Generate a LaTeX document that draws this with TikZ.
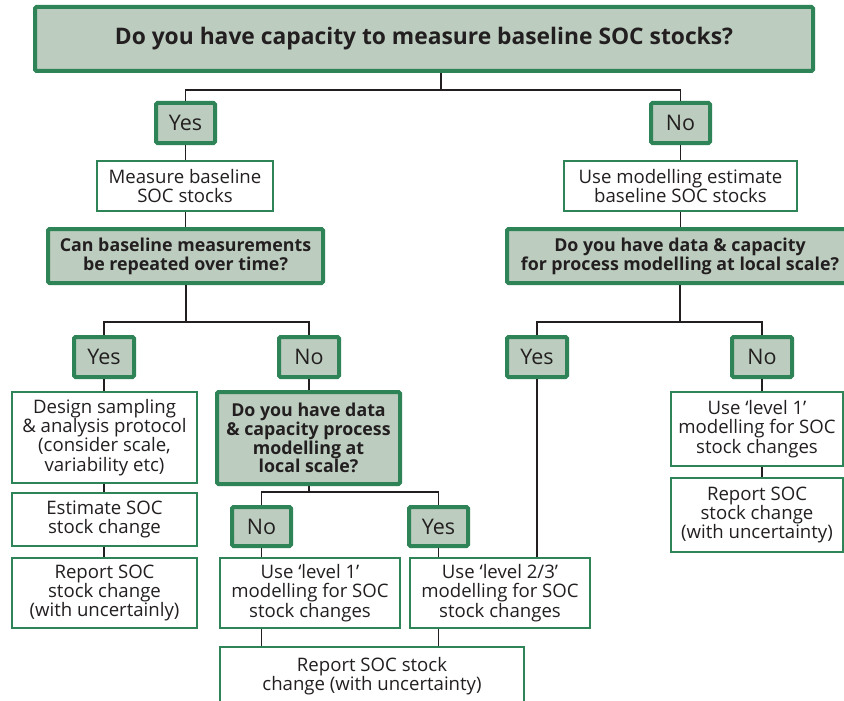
\documentclass[tikz,border=0pt]{standalone}
\usepackage{fontspec}
\setmainfont{Open Sans}
\definecolor{gborder}{HTML}{2E8357}
\definecolor{gfill}{HTML}{BCCDBF}
\definecolor{ink}{HTML}{231F20}
\tikzset{
  qbox/.style={draw=gborder, line width=4pt, fill=gfill, rounded corners=1.5pt, align=center, text=ink, inner sep=0pt,
    font=\fontsize{17.8}{18.8}\selectfont\bfseries},
  ansbox/.style={draw=gborder, line width=4pt, fill=gfill, rounded corners=1.5pt, align=center, text=ink, inner sep=0pt,
    font=\fontsize{21.5}{22}\selectfont},
  actbox/.style={draw=gborder, line width=1.8pt, fill=white, align=center, text=ink, inner sep=0pt,
    font=\fontsize{18.6}{19.2}\selectfont},
  conn/.style={draw=ink, line width=1.8pt}
}
\begin{document}
\begin{tikzpicture}[x=1pt,y=-1pt]
\useasboundingbox (0,0) rectangle (844,701);
\coordinate (j1) at (441,90);
\coordinate (j2) at (186,322);
\coordinate (j3) at (680,322);
\coordinate (j4) at (309,492);

% nodes
\node[qbox, minimum width=778, minimum height=64, font=\fontsize{22.8}{24}\selectfont\bfseries] (q1) at (424,39) {\raisebox{-2pt}{Do you have capacity to measure baseline SOC stocks?}};
\node[ansbox, minimum width=59, minimum height=40] (yes1) at (185.5,123) {Yes};
\node[ansbox, minimum width=59, minimum height=40] (no1) at (680.5,123) {No};
\node[actbox, minimum width=176, minimum height=50] (m1) at (185,186) {Measure baseline\\SOC stocks};
\node[actbox, minimum width=233, minimum height=50] (m2) at (680.5,186) {Use modelling estimate\\baseline SOC stocks};
\node[qbox, minimum width=275, minimum height=54] (q2) at (185.5,256) {Can baseline measurements\\be repeated over time?};
\node[qbox, minimum width=346, minimum height=54] (q3) at (680,256) {Do you have data \& capacity\\for process modelling at local scale?};
\node[ansbox, minimum width=60, minimum height=40] (yes2) at (104,357) {Yes};
\node[ansbox, minimum width=60, minimum height=40] (no2) at (309,357) {No};
\node[ansbox, minimum width=60, minimum height=40] (yes3) at (537,357) {Yes};
\node[ansbox, minimum width=60, minimum height=40] (no3) at (762,357) {No};
\node[actbox, minimum width=185, minimum height=91] (d1) at (104.5,437.5) {Design sampling\\\& analysis protocol\\(consider scale,\\variability etc)};
\node[qbox, minimum width=183, minimum height=92] (q4) at (308.5,438) {Do you have data\\\& capacity process\\modelling at\\local scale?};
\node[actbox, minimum width=172, minimum height=74] (l1r) at (757,429) {Use ‘level 1’\\modelling for SOC\\stock changes};
\node[actbox, minimum width=172, minimum height=74] (rr) at (757,515) {Report SOC\\stock change\\(with uncertainty)};
\node[actbox, minimum width=185, minimum height=53] (e1) at (104.5,519.5) {Estimate SOC\\stock change};
\node[ansbox, minimum width=59, minimum height=39] (no4) at (261.5,526.5) {No};
\node[ansbox, minimum width=59, minimum height=39] (yes4) at (438.5,526.5) {Yes};
\node[actbox, minimum width=185, minimum height=70] (rl) at (104.5,593) {Report SOC\\stock change\\(with uncertainly)};
\node[actbox, minimum width=180, minimum height=70] (l1m) at (310,593) {Use ‘level 1’\\modelling for SOC\\stock changes};
\node[actbox, minimum width=180, minimum height=70] (l23) at (500,593) {Use ‘level 2/3’\\modelling for SOC\\stock changes};
\node[actbox, minimum width=304, minimum height=62] (rb) at (372,678) {};
\node[align=center, text=ink, inner sep=0pt, font=\fontsize{18.6}{19.2}\selectfont, anchor=north] (rbt) at (372,657) {Report SOC stock\\change (with uncertainty)};

% connectors
\draw[conn] (j1 |- q1.south) -- (j1);
\draw[conn] (yes1.north) -- (yes1.north |- j1) -- (no1.north |- j1) -- (no1.north);
\draw[conn] (yes1.south) -- (yes1.south |- m1.north);
\draw[conn] (m1.south -| yes1.south) -- (yes1.south |- q2.north);
\draw[conn] (no1.south) -- (no1.south |- m2.north);
\draw[conn] (m2.south -| no1.south) -- (no1.south |- q3.north);
\draw[conn] (j2 |- q2.south) -- (j2);
\draw[conn] (yes2.north) -- (yes2.north |- j2) -- (no2.north |- j2) -- (no2.north);
\draw[conn] (j3 |- q3.south) -- (j3);
\draw[conn] (yes3.north) -- (yes3.north |- j3) -- (no3.north |- j3) -- (no3.north);
\draw[conn] (yes2.south) -- (yes2.south |- d1.north);
\draw[conn] (d1.south -| yes2.south) -- (yes2.south |- e1.north);
\draw[conn] (e1.south -| yes2.south) -- (yes2.south |- rl.north);
\draw[conn] (no2.south) -- (no2.south |- q4.north);
\draw[conn] (j4 |- q4.south) -- (j4);
\draw[conn] (no4.north) -- (no4.north |- j4) -- (yes4.north |- j4) -- (yes4.north);
\draw[conn] (no4.south) -- (no4.south |- l1m.north);
\draw[conn] (yes4.south) -- (yes4.south |- l23.north);
\draw[conn] (l1m.south -| no4.south) -- (no4.south |- rb.north);
\draw[conn] (l23.south -| yes4.south) -- (yes4.south |- rb.north);
\draw[conn] (yes3.south) -- (yes3.south |- l23.north);
\draw[conn] (no3.south) -- (no3.south |- l1r.north);
\draw[conn] (l1r.south -| no3.south) -- (no3.south |- rr.north);
\end{tikzpicture}
\end{document}
